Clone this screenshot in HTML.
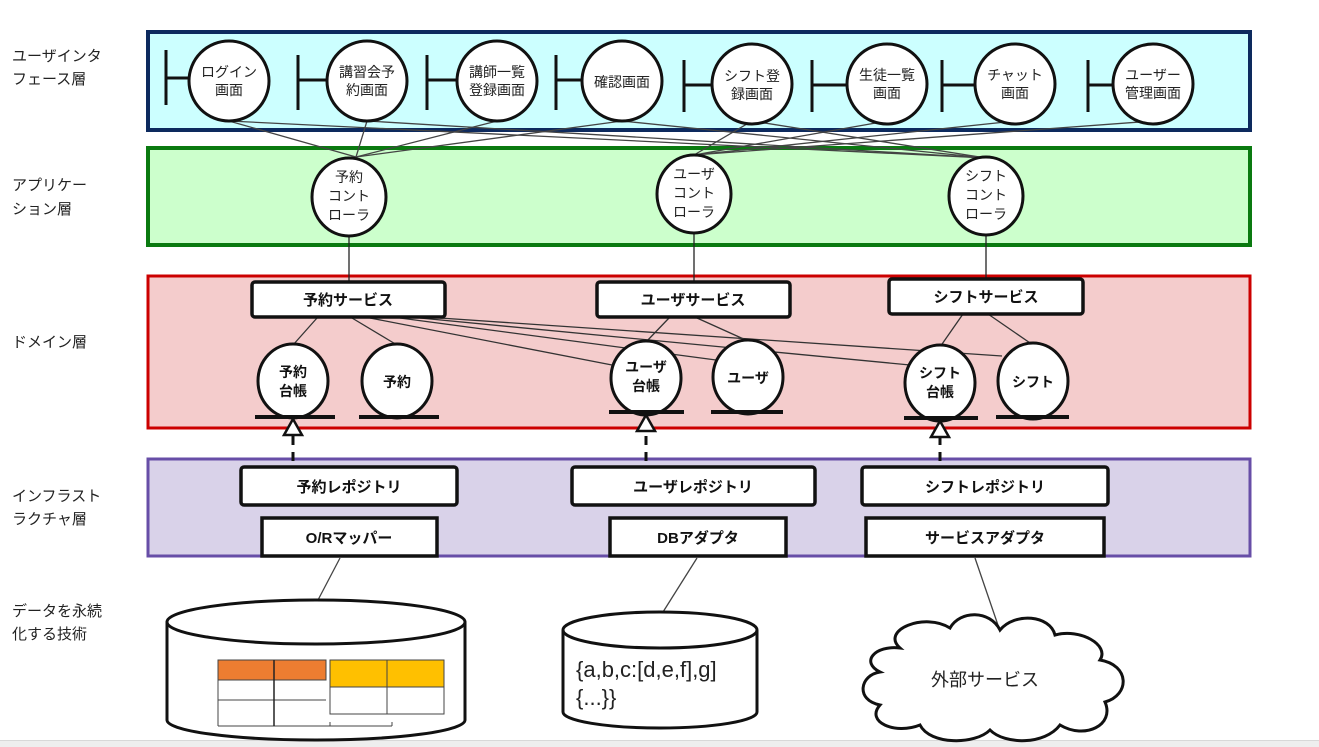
<!DOCTYPE html>
<html><head><meta charset="utf-8"><style>
html,body{margin:0;padding:0;background:#fff;}
svg{display:block;font-family:"Liberation Sans","Noto Sans CJK JP",sans-serif;}
</style></head><body>
<svg width="1319" height="747" viewBox="0 0 1319 747" xmlns="http://www.w3.org/2000/svg">
<rect x="0" y="740" width="1319" height="7" fill="#eeeeee"/>
<line x1="0" y1="740.5" x2="1319" y2="740.5" stroke="#d8d8d8"/>
<!-- left labels -->
<g font-size="15" fill="#222">
<text x="12" y="61">ユーザインタ</text><text x="12" y="84">フェース層</text>
<text x="12" y="190">アプリケー</text><text x="12" y="214">ション層</text>
<text x="12" y="347">ドメイン層</text>
<text x="12" y="501">インフラスト</text><text x="12" y="524">ラクチャ層</text>
<text x="12" y="616">データを永続</text><text x="12" y="639">化する技術</text>
</g>
<!-- layers -->
<rect x="148" y="32" width="1102" height="98" fill="#ccffff" stroke="#0d2a5e" stroke-width="4"/>
<rect x="148" y="148" width="1102" height="97" fill="#ccffcc" stroke="#0a7a10" stroke-width="4"/>
<rect x="148" y="276" width="1102" height="152" fill="#f4cccc" stroke="#cc0000" stroke-width="3"/>
<rect x="148" y="459" width="1102" height="97" fill="#d9d2e9" stroke="#674ea7" stroke-width="3"/>
<!-- UI to controller lines -->
<g stroke="#444" stroke-width="1.3" fill="none">
<line x1="229" y1="121" x2="356" y2="157"/>
<line x1="367" y1="121" x2="356" y2="157"/>
<line x1="497" y1="121" x2="356" y2="157"/>
<line x1="622" y1="121" x2="356" y2="157"/>
<line x1="229" y1="121" x2="986" y2="158"/>
<line x1="367" y1="121" x2="986" y2="158"/>
<line x1="752" y1="121" x2="986" y2="158"/>
<line x1="622" y1="121" x2="986" y2="158"/>
<line x1="887" y1="121" x2="694" y2="155"/>
<line x1="1015" y1="121" x2="694" y2="155"/>
<line x1="1153" y1="121" x2="694" y2="155"/>
<line x1="752" y1="121" x2="694" y2="155"/>
</g>
<!-- UI boundaries -->
<g stroke="#111" stroke-width="3" fill="#fff">
<g><line x1="166" y1="50" x2="166" y2="105"/><line x1="166" y1="78" x2="190" y2="78"/><circle cx="229" cy="81" r="40"/></g>
<g><line x1="298" y1="55" x2="298" y2="110"/><line x1="298" y1="80" x2="327" y2="80"/><circle cx="367" cy="81" r="40"/></g>
<g><line x1="427" y1="55" x2="427" y2="110"/><line x1="427" y1="80" x2="457" y2="80"/><circle cx="497" cy="81" r="40"/></g>
<g><line x1="556" y1="55" x2="556" y2="110"/><line x1="556" y1="80" x2="582" y2="80"/><circle cx="622" cy="81" r="40"/></g>
<g><line x1="684" y1="60" x2="684" y2="112"/><line x1="684" y1="85" x2="712" y2="85"/><circle cx="752" cy="84" r="40"/></g>
<g><line x1="812" y1="60" x2="812" y2="112"/><line x1="812" y1="85" x2="847" y2="85"/><circle cx="887" cy="84" r="40"/></g>
<g><line x1="942" y1="60" x2="942" y2="112"/><line x1="942" y1="85" x2="975" y2="85"/><circle cx="1015" cy="84" r="40"/></g>
<g><line x1="1088" y1="60" x2="1088" y2="112"/><line x1="1088" y1="85" x2="1113" y2="85"/><circle cx="1153" cy="84" r="40"/></g>
</g>
<g font-size="14" fill="#222" text-anchor="middle">
<text x="229" y="77">ログイン</text><text x="229" y="95">画面</text>
<text x="367" y="77">講習会予</text><text x="367" y="95">約画面</text>
<text x="497" y="77">講師一覧</text><text x="497" y="95">登録画面</text>
<text x="622" y="87">確認画面</text>
<text x="752" y="81">シフト登</text><text x="752" y="99">録画面</text>
<text x="887" y="80">生徒一覧</text><text x="887" y="98">画面</text>
<text x="1015" y="80">チャット</text><text x="1015" y="98">画面</text>
<text x="1153" y="80">ユーザー</text><text x="1153" y="98">管理画面</text>
</g>
<!-- controllers -->
<g stroke="#222" stroke-width="1.3">
<line x1="349" y1="236" x2="349" y2="282"/>
<line x1="694" y1="233" x2="694" y2="282"/>
<line x1="986" y1="235" x2="986" y2="279"/>
</g>
<g stroke="#111" stroke-width="3" fill="#fff">
<ellipse cx="349" cy="197" rx="37" ry="39"/>
<ellipse cx="694" cy="194" rx="37" ry="39"/>
<ellipse cx="986" cy="196" rx="37" ry="39"/>
</g>
<g font-size="14" fill="#222" text-anchor="middle">
<text x="349" y="182">予約</text><text x="349" y="201">コント</text><text x="349" y="220">ローラ</text>
<text x="694" y="179">ユーザ</text><text x="694" y="198">コント</text><text x="694" y="217">ローラ</text>
<text x="986" y="181">シフト</text><text x="986" y="200">コント</text><text x="986" y="219">ローラ</text>
</g>
<!-- domain lines -->
<g stroke="#333" stroke-width="1.3">
<line x1="317" y1="318" x2="293" y2="345"/><line x1="352" y1="318" x2="397" y2="345"/>
<line x1="669" y1="318" x2="646" y2="342"/><line x1="697" y1="318" x2="748" y2="341"/>
<line x1="963" y1="314" x2="940" y2="347"/><line x1="988" y1="314" x2="1033" y2="345"/>
<line x1="370" y1="318" x2="612" y2="365"/>
<line x1="400" y1="318" x2="716" y2="360"/>
<line x1="420" y1="318" x2="910" y2="365"/>
<line x1="440" y1="318" x2="1002" y2="356"/>
</g>
<!-- services -->
<g stroke="#111" stroke-width="3.5" fill="#fff">
<rect x="252" y="282" width="193" height="35" rx="3"/>
<rect x="597" y="282" width="193" height="35" rx="3"/>
<rect x="889" y="279" width="194" height="35" rx="3"/>
</g>
<g font-size="15" font-weight="bold" fill="#111" text-anchor="middle">
<text x="348" y="305">予約サービス</text>
<text x="693" y="305">ユーザサービス</text>
<text x="986" y="302">シフトサービス</text>
</g>
<!-- entities -->
<g stroke="#111" stroke-width="3" fill="#fff">
<ellipse cx="293" cy="381" rx="35" ry="37"/><line x1="255" y1="417" x2="335" y2="417" stroke-width="4"/>
<ellipse cx="397" cy="381" rx="35" ry="37"/><line x1="359" y1="417" x2="439" y2="417" stroke-width="4"/>
<ellipse cx="646" cy="378" rx="35" ry="37"/><line x1="609" y1="412" x2="684" y2="412" stroke-width="4"/>
<ellipse cx="748" cy="377" rx="35" ry="37"/><line x1="711" y1="412" x2="783" y2="412" stroke-width="4"/>
<ellipse cx="940" cy="383" rx="35" ry="38"/><line x1="904" y1="418" x2="978" y2="418" stroke-width="4"/>
<ellipse cx="1033" cy="381" rx="35" ry="38"/><line x1="996" y1="417" x2="1069" y2="417" stroke-width="4"/>
</g>
<g font-size="14" font-weight="bold" fill="#111" text-anchor="middle">
<text x="293" y="377">予約</text><text x="293" y="396">台帳</text>
<text x="397" y="387">予約</text>
<text x="646" y="372">ユーザ</text><text x="646" y="391">台帳</text>
<text x="748" y="383">ユーザ</text>
<text x="940" y="378">シフト</text><text x="940" y="397">台帳</text>
<text x="1033" y="387">シフト</text>
</g>
<!-- realization arrows -->
<g stroke="#111" stroke-width="3">
<line x1="293" y1="436" x2="293" y2="468" stroke-dasharray="9,7"/>
<line x1="646" y1="436" x2="646" y2="468" stroke-dasharray="9,7"/>
<line x1="940" y1="436" x2="940" y2="468" stroke-dasharray="9,7"/>
<polygon points="293,419 284,435 302,435" fill="#fff" stroke-width="2.5"/>
<polygon points="646,415 637,431 655,431" fill="#fff" stroke-width="2.5"/>
<polygon points="940,421 931,437 949,437" fill="#fff" stroke-width="2.5"/>
</g>
<!-- repos & adapters -->
<g stroke="#111" stroke-width="3.5" fill="#fff">
<rect x="241" y="467" width="216" height="38" rx="3"/>
<rect x="572" y="467" width="243" height="38" rx="3"/>
<rect x="862" y="467" width="246" height="38" rx="3"/>
<rect x="262" y="518" width="175" height="38"/>
<rect x="610" y="518" width="176" height="38"/>
<rect x="866" y="518" width="238" height="38"/>
</g>
<g font-size="15" font-weight="bold" fill="#111" text-anchor="middle">
<text x="349" y="492">予約レポジトリ</text>
<text x="693" y="492">ユーザレポジトリ</text>
<text x="985" y="492">シフトレポジトリ</text>
<text x="349" y="543">O/Rマッパー</text>
<text x="698" y="543">DBアダプタ</text>
<text x="985" y="543">サービスアダプタ</text>
</g>
<g stroke="#444" stroke-width="1.3">
<line x1="340" y1="558" x2="318" y2="600"/>
<line x1="697" y1="558" x2="663" y2="612"/>
<line x1="975" y1="558" x2="1000" y2="631"/>
</g>
<!-- cylinder 1 -->
<g stroke="#111" stroke-width="3" fill="#fff">
<path d="M167,622 L167,720 A149,20 0 0 0 465,720 L465,622"/>
<ellipse cx="316" cy="622" rx="149" ry="22"/>
</g>
<g stroke="#444" stroke-width="1">
<rect x="218" y="660" width="108" height="20" fill="#ed7d31"/>
<line x1="218" y1="680" x2="218" y2="726"/>
<line x1="218" y1="700" x2="326" y2="700"/>
<line x1="218" y1="726" x2="392" y2="726"/>
<line x1="392" y1="722" x2="392" y2="726"/>
<line x1="330" y1="722" x2="330" y2="726"/>
<rect x="330" y="660" width="114" height="27" fill="#ffc000"/>
<rect x="330" y="687" width="114" height="27" fill="#fff"/>
<line x1="387" y1="660" x2="387" y2="714"/>
</g>
<line x1="274" y1="660" x2="274" y2="726" stroke="#222" stroke-width="1.5"/>
<!-- cylinder 2 -->
<g stroke="#111" stroke-width="3" fill="#fff">
<path d="M563,630 L563,712 A97,16 0 0 0 757,712 L757,630"/>
<ellipse cx="660" cy="630" rx="97" ry="18"/>
</g>
<g font-size="22" fill="#222">
<text x="576" y="677">{a,b,c:[d,e,f],g]</text>
<text x="576" y="705">{...}}</text>
</g>
<!-- cloud -->
<path d="M900,648 C880,630 925,612 950,628 C960,610 990,610 1000,630 C1015,612 1050,615 1055,635 C1080,628 1110,645 1100,660 C1130,665 1130,695 1105,702 C1115,725 1085,740 1060,725 C1045,745 1005,745 990,730 C975,745 930,745 920,725 C895,735 865,722 880,705 C855,700 860,675 880,672 C860,662 875,645 900,648 Z" fill="#fff" stroke="#111" stroke-width="3"/>
<text x="985" y="686" font-size="18" fill="#222" text-anchor="middle">外部サービス</text>
</svg>
</body></html>
